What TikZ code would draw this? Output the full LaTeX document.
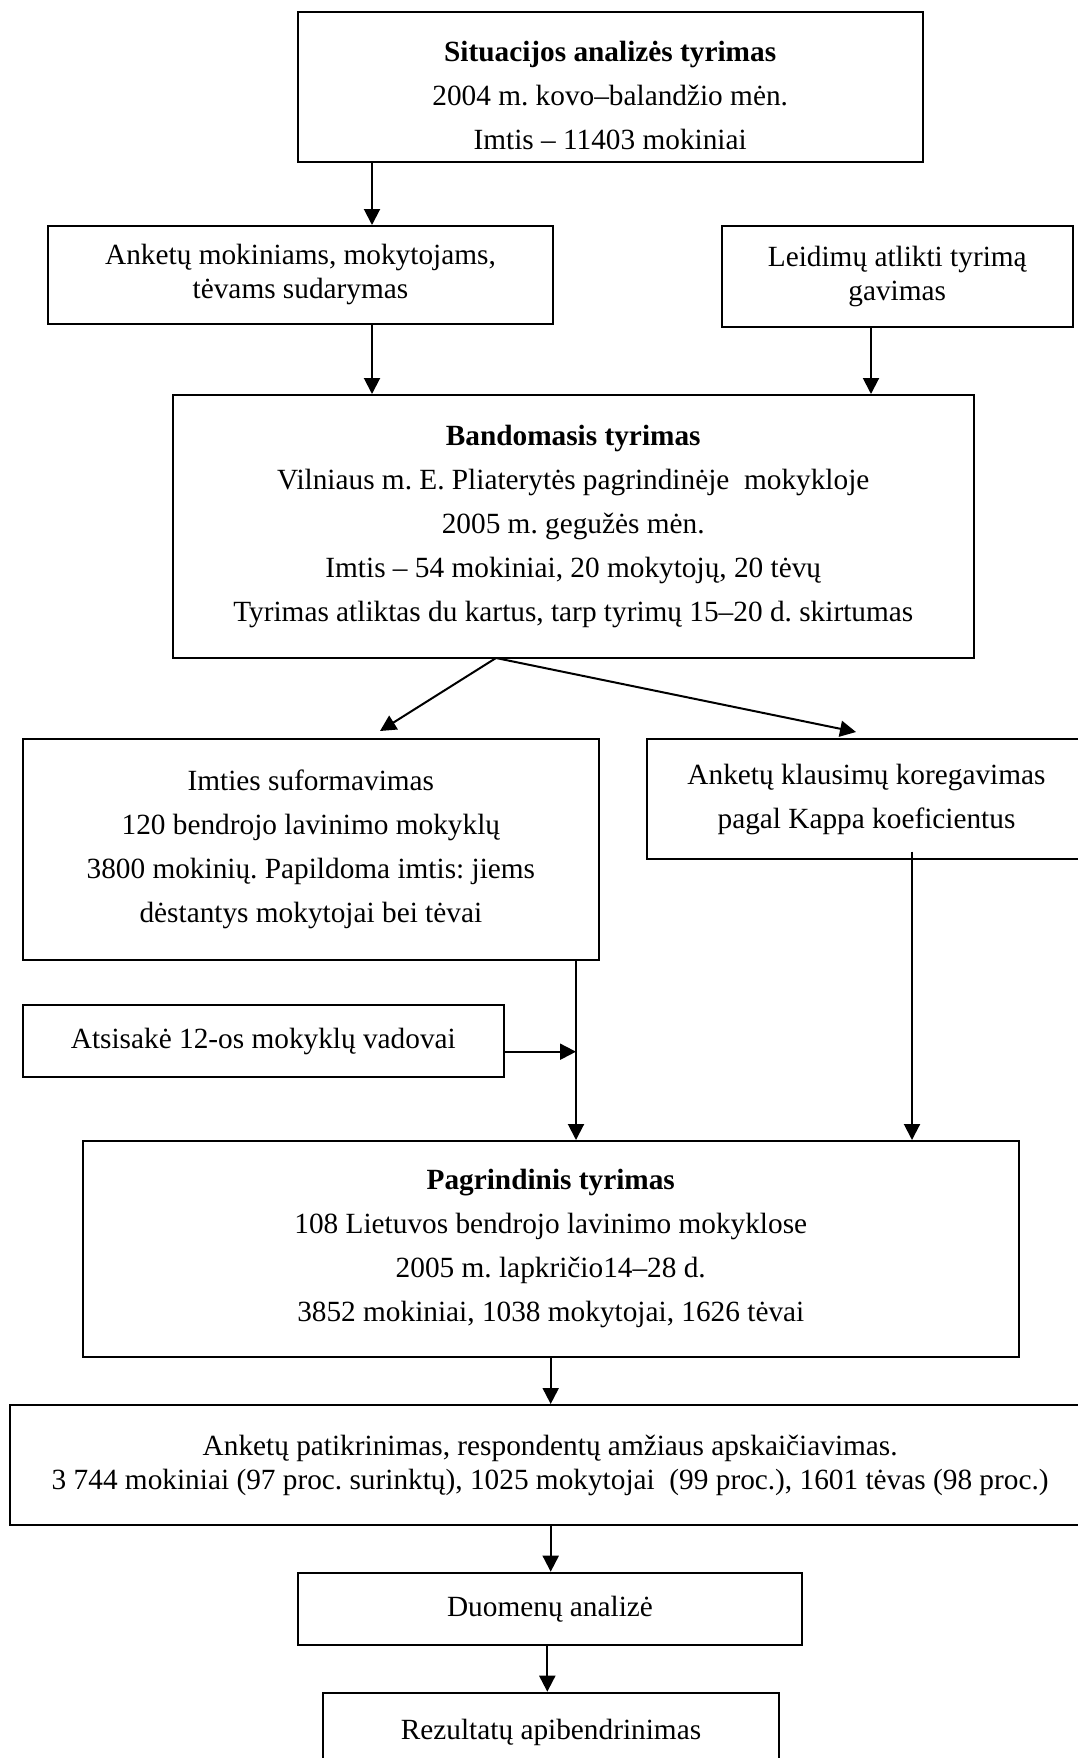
\documentclass[tikz,border=0pt]{standalone}
\usepackage{fontspec}
\setmainfont{Liberation Serif}
\usetikzlibrary{arrows.meta}
\frenchspacing
\tikzset{
  box/.style={draw, line width=2pt, inner sep=0pt, align=center, font=\fontsize{29.3}{44}\selectfont},
  single/.style={font=\fontsize{29.3}{34}\selectfont},
  arr/.style={line width=2pt, -{Triangle[length=16pt,width=16pt]}}
}
\begin{document}
\begin{tikzpicture}[x=1pt,y=-1pt]
\useasboundingbox (0,0) rectangle (1078,1758);
\fill[white] (0,0) rectangle (1078,1758);
\clip (0,0) rectangle (1078,1758);

\node[box, minimum width=624.9pt, minimum height=150.1pt] (sit) at (610.15,86.75)
  {\rule{0pt}{38pt}\textbf{Situacijos analizės tyrimas}\\2004 m. kovo–balandžio mėn.\\Imtis – 11403 mokiniai};
\node[box, single, minimum width=505pt, minimum height=97.5pt] (ank) at (300.5,274.75)
  {Anketų mokiniams, mokytojams,\\tėvams sudarymas};
\node[box, single, minimum width=350.5pt, minimum height=101pt] (leid) at (897.25,276.5)
  {Leidimų atlikti tyrimą\\gavimas};
\node[box, minimum width=800.5pt, minimum height=263pt] (band) at (573.25,526.5)
  {\textbf{Bandomasis tyrimas}\\Vilniaus m. E. Pliaterytės pagrindinėje~ mokykloje\\2005 m. gegužės mėn.\\Imtis – 54 mokiniai, 20 mokytojų, 20 tėvų\\Tyrimas atliktas du kartus, tarp tyrimų 15–20 d. skirtumas};
\node[box, minimum width=576.3pt, minimum height=221.4pt] (imties) at (310.85,849.7)
  {Imties suformavimas\\120 bendrojo lavinimo mokyklų\\3800 mokinių. Papildoma imtis: jiems\\dėstantys mokytojai bei tėvai};
\node[box, minimum width=439pt, minimum height=120pt] (klaus) at (866.5,799)
  {Anketų klausimų koregavimas\\pagal Kappa koeficientus};
\node[box, minimum width=481.3pt, minimum height=72pt] (atsis) at (263.35,1041)
  {Atsisakė 12-os mokyklų vadovai};
\node[box, minimum width=936.5pt, minimum height=215.7pt] (pagr) at (550.75,1248.85)
  {\textbf{Pagrindinis tyrimas}\\108 Lietuvos bendrojo lavinimo mokyklose\\2005 m. lapkričio14–28 d.\\3852 mokiniai, 1038 mokytojai, 1626 tėvai};
\node[box, single, minimum width=1079.7pt, minimum height=120pt] (patik) at (550.15,1465)
  {Anketų patikrinimas, respondentų amžiaus apskaičiavimas.\\3 744 mokiniai (97 proc. surinktų), 1025 mokytojai~ (99 proc.), 1601 tėvas (98 proc.)};
\node[box, minimum width=504.6pt, minimum height=72.3pt] (duom) at (550,1608.85)
  {Duomenų analizė};
\node[box, minimum width=456.6pt, minimum height=80pt] (rez) at (551,1732.7)
  {Rezultatų apibendrinimas};

\coordinate (gA) at (372,0);
\coordinate (gB) at (871,0);
\coordinate (gC) at (576,0);
\coordinate (gD) at (912,851.7);
\coordinate (gE) at (550.7,0);
\coordinate (gF) at (547.3,0);
\coordinate (gG) at (0,1051.7);
\coordinate (split) at (496,658);
\coordinate (tipL) at (380,731);
\coordinate (tipR) at (856,732);

\draw[arr] (gA |- sit.south) -- (gA |- ank.north);
\draw[arr] (gA |- ank.south) -- (gA |- band.north);
\draw[arr] (gB |- leid.south) -- (gB |- band.north);
\draw[arr] (split) -- (tipL);
\draw[arr] (split) -- (tipR);
\draw[arr] (gC |- imties.south) -- (gC |- pagr.north);
\draw[arr] (atsis.east |- gG) -- (gC |- gG);
\draw[arr] (gD) -- (gD |- pagr.north);
\draw[arr] (gE |- pagr.south) -- (gE |- patik.north);
\draw[arr] (gE |- patik.south) -- (gE |- duom.north);
\draw[arr] (gF |- duom.south) -- (gF |- rez.north);
\end{tikzpicture}
\end{document}
